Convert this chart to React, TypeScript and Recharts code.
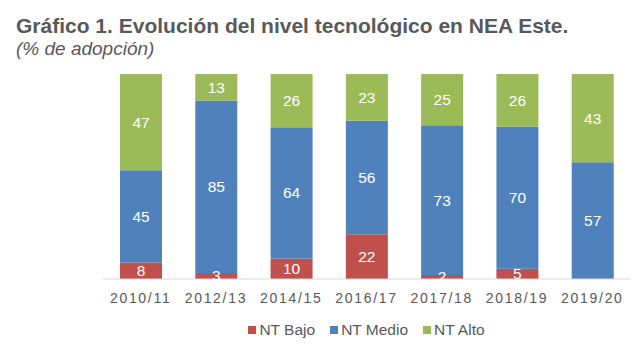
import { Bar, BarChart, LabelList, XAxis, YAxis } from "recharts";

const years = ["2010/11", "2012/13", "2014/15", "2016/17", "2017/18", "2018/19", "2019/20"];
const ntBajo = [8, 3, 10, 22, 2, 5, 0];
const ntMedio = [45, 85, 64, 56, 73, 70, 57];
const ntAlto = [47, 13, 26, 23, 25, 26, 43];

const data = years.map((y, i) => ({
  year: y,
  bajo: ntBajo[i],
  medio: ntMedio[i],
  alto: ntAlto[i],
}));

const series = [
  { key: "bajo", name: "NT Bajo", color: "#C0504D" },
  { key: "medio", name: "NT Medio", color: "#4F81BD" },
  { key: "alto", name: "NT Alto", color: "#9BBB59" },
];

const font = "'Liberation Sans', Arial, sans-serif";

const hideZero = (v: any) => (v ? v : "");

export default function App() {
  return (
    <div style={{ position: "absolute", left: 0, top: 0, width: 640, height: 364, background: "#fff" }}>
      <div
        style={{
          position: "absolute",
          left: 16,
          top: 14,
          fontFamily: font,
          fontWeight: "bold",
          fontSize: 21,
          color: "#595959",
          whiteSpace: "nowrap",
        }}
      >
        Gráfico 1. Evolución del nivel tecnológico en NEA Este.
      </div>
      <div
        style={{
          position: "absolute",
          left: 16,
          top: 38,
          fontFamily: font,
          fontStyle: "italic",
          fontSize: 19,
          color: "#595959",
          whiteSpace: "nowrap",
        }}
      >
        (% de adopción)
      </div>
      <BarChart
        width={640}
        height={364}
        data={data}
        stackOffset="expand"
        margin={{ top: 74, right: 10, left: 103, bottom: 55 }}
        barSize={42}
      >
        <XAxis
          dataKey="year"
          height={30}
          axisLine={{ stroke: "#D9D9D9" }}
          tickLine={false}
          tick={{ fill: "#595959", fontSize: 14, fontFamily: font, letterSpacing: 1.7 }}
          tickMargin={8}
          interval={0}
        />
        <YAxis hide domain={[0, 1]} />
        {series.map((s) => (
          <Bar key={s.key} dataKey={s.key} name={s.name} stackId="a" fill={s.color} isAnimationActive={false}>
            <LabelList
              dataKey={s.key}
              position="center"
              formatter={hideZero}
              fill="#FFFFFF"
              fontSize={15.5}
              fontFamily={font}
            />
          </Bar>
        ))}
      </BarChart>
      <div
        style={{
          position: "absolute",
          left: 103,
          top: 321,
          width: 527,
          display: "flex",
          justifyContent: "center",
          fontFamily: font,
          fontSize: 15.5,
          color: "#595959",
        }}
      >
        {series.map((s, i) => (
          <div
            key={s.key}
            style={{ display: "flex", alignItems: "center", marginLeft: i === 0 ? 0 : 15 }}
          >
            <span style={{ width: 8, height: 8, background: s.color, marginRight: 3, display: "inline-block" }} />
            <span>{s.name}</span>
          </div>
        ))}
      </div>
    </div>
  );
}
